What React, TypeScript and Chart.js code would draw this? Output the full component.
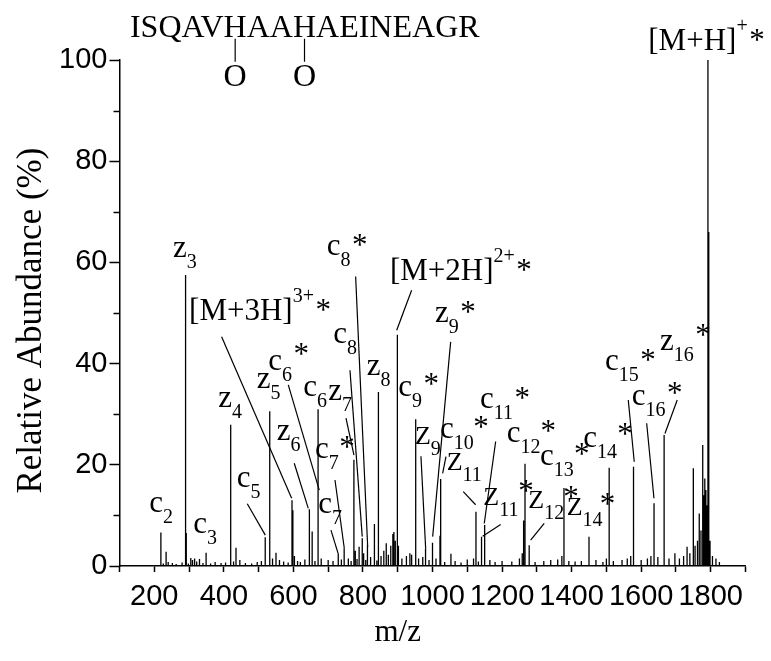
import React, { useEffect, useRef } from "react";
import { Chart, registerables } from "chart.js";

Chart.register(...registerables);

// Fragment and precursor peaks (m/z, relative abundance %)
const peakMz = [
  219, 234, 290, 292, 305, 310, 316, 349, 418.6, 420.5,
  435, 519, 532, 550, 596, 598.5, 603, 646, 654, 671,
  729, 746, 774, 778, 789, 798, 802, 813, 833, 844.5,
  860, 867, 880, 886, 889, 893, 899, 902, 935, 940,
  950.5, 952.5, 980, 1000, 1021.5, 1023.5, 1053, 1125, 1141, 1150,
  1262, 1266, 1278, 1372, 1378, 1450, 1508, 1578, 1637, 1666,
  1697, 1732, 1750, 1755, 1762, 1767, 1772, 1777, 1780, 1783,
  1786, 1789, 1792, 1793.5, 1795, 1798, 1805,
];
const peakAbundance = [
  6.6, 2.8, 57.5, 6.5, 1.6, 1.2, 1.5, 2.6, 27.9, 6.4,
  3.6, 5.7, 30.6, 2.6, 13.0, 11.0, 2.0, 11.2, 6.8, 31.0,
  2.4, 3.5, 21.0, 3.0, 3.8, 5.5, 2.5, 4.1, 8.3, 34.4,
  3.0, 4.5, 4.0, 6.3, 6.7, 5.0, 45.7, 4.0, 2.5, 2.2,
  29.0, 8.8, 3.5, 4.6, 6.0, 17.2, 2.4, 10.7, 5.8, 8.1,
  9.0, 20.2, 4.1, 2.0, 15.4, 5.8, 19.4, 19.6, 12.4, 25.9,
  2.5, 3.8, 19.3, 4.0, 5.0, 10.4, 7.0, 23.9, 14.0, 17.3,
  15.0, 12.0, 100, 66, 25, 5, 2,
];

// Low-level baseline signals
const noiseMz = [
  226, 240, 252, 263, 280, 298, 322, 330, 340, 362,
  375, 392, 405, 428, 446, 462, 480, 496, 508, 540,
  560, 572, 585, 612, 620, 633, 662, 680, 700, 714,
  738, 758, 766, 783, 808, 822, 840, 852, 873, 912,
  925, 960, 972, 990, 1010, 1035, 1065, 1082, 1100, 1118,
  1132, 1165, 1180, 1200, 1228, 1250, 1258, 1295, 1320, 1340,
  1360, 1392, 1410, 1428, 1470, 1490, 1500, 1520, 1545, 1560,
  1570, 1600, 1618, 1628, 1648, 1680, 1710, 1722, 1740, 1815,
  1825,
];
const noiseAbundance = [
  0.5, 0.8, 0.6, 0.4, 0.7, 0.5, 0.9, 1.4, 0.6, 0.5,
  0.8, 0.6, 0.7, 0.9, 1.2, 0.6, 0.5, 0.8, 1.0, 1.5,
  1.2, 0.9, 0.7, 1.0, 0.8, 1.3, 1.0, 1.5, 1.2, 1.0,
  1.3, 1.5, 1.0, 1.4, 1.2, 1.8, 1.1, 2.0, 2.2, 1.5,
  2.0, 1.5, 1.8, 1.2, 1.5, 0.8, 1.0, 0.7, 1.3, 1.5,
  0.9, 1.2, 0.8, 1.0, 0.9, 1.5, 2.5, 0.8, 1.0, 1.2,
  1.3, 1.0, 0.9, 1.0, 1.2, 0.8, 1.5, 1.0, 1.2, 1.5,
  2.0, 1.2, 1.5, 2.0, 1.8, 1.5, 1.5, 2.0, 2.5, 1.5,
  0.8,
];

const xLabelValues = [200, 400, 600, 800, 1000, 1200, 1400, 1600, 1800];
const yLabelValues = [0, 20, 40, 60, 80, 100];
const yMinorTicks = [10, 30, 50, 70, 90];

const sequence = "ISQAVHAAHAEINEAGR";
const oxidizedResidues = [5, 8];

type IonLabel = {
  text: string;
  sub?: string;
  sup?: string;
  star?: boolean;
  starLift?: number;
  mz: number;
  ab: number;
};

// Ion labels: anchor is left edge / baseline of the main glyphs
const ionLabels: IonLabel[] = [
  { text: "z", sub: "3", mz: 253.8, ab: 61.1 },
  { text: "[M+3H]", sup: "3+", star: true, mz: 300, ab: 48.6 },
  { text: "c", sub: "8", star: true, mz: 695.7, ab: 61.5 },
  { text: "[M+2H]", sup: "2+", star: true, mz: 877.6, ab: 56.5 },
  { text: "z", sub: "9", star: true, mz: 1007, ab: 48.3 },
  { text: "c", sub: "9", star: true, starLift: 2, mz: 901.8, ab: 33.5 },
  { text: "z", sub: "8", mz: 810.7, ab: 37.7 },
  { text: "c", sub: "8", mz: 714.7, ab: 44.0 },
  { text: "c", sub: "6", star: true, starLift: 6, mz: 527.8, ab: 38.7 },
  { text: "z", sub: "5", mz: 494.4, ab: 35.1 },
  { text: "c", sub: "6", mz: 628.4, ab: 33.5 },
  { text: "z", sub: "7", mz: 700.3, ab: 32.8 },
  { text: "z", sub: "4", mz: 384, ab: 31.5 },
  { text: "z", sub: "6", mz: 552, ab: 24.9 },
  { text: "c", sub: "7", mz: 662, ab: 21.3 },
  { text: "c", sub: "5", mz: 437, ab: 15.7 },
  { text: "c", sub: "7", mz: 671.5, ab: 10.4 },
  { text: "c", sub: "2", mz: 185.6, ab: 10.7 },
  { text: "c", sub: "3", mz: 312, ab: 6.5 },
  { text: "Z", sub: "9", mz: 949.6, ab: 24.2 },
  { text: "c", sub: "10", mz: 1021.4, ab: 25.2 },
  { text: "Z", sub: "11", mz: 1040.7, ab: 19.0 },
  { text: "c", sub: "11", star: true, mz: 1136.5, ab: 31.2 },
  { text: "c", sub: "12", mz: 1213.2, ab: 24.6 },
  { text: "c", sub: "13", mz: 1309, ab: 20.0 },
  { text: "Z", sub: "11", mz: 1146, ab: 12.1 },
  { text: "Z", sub: "12", mz: 1275.3, ab: 11.4 },
  { text: "Z", sub: "14", mz: 1385.7, ab: 10.1 },
  { text: "c", sub: "14", mz: 1433.5, ab: 23.6 },
  { text: "c", sub: "15", star: true, mz: 1495.9, ab: 38.7 },
  { text: "c", sub: "16", star: true, starLift: 2, mz: 1572.6, ab: 31.8 },
  { text: "z", sub: "16", star: true, starLift: 5, mz: 1654, ab: 42.7 },
  { text: "[M+H]", sup: "+", star: true, mz: 1620.5, ab: 102.0 },
];

// Stand-alone asterisks (centre positions)
const loneStars: [number, number][] = [
  [754, 24.4], [1139.3, 28.3], [1332.8, 27.5], [1268.7, 15.6],
  [1398, 14.4], [1428.9, 22.9], [1503, 13.0], [1553.4, 26.9],
];

// Leader lines from labels to peaks: [mz1, ab1, mz2, ab2]
const leaderLines: [number, number, number, number][] = [
  [393.6, 45.3, 595, 13.4],
  [779, 57.2, 813.6, 3.8],
  [762.7, 38.7, 798, 5.8],
  [751.2, 29.2, 774.2, 21.9],
  [602.5, 20.3, 642.8, 11.4],
  [585.3, 35.8, 674.4, 15.0],
  [719.6, 17.0, 746.3, 3.5],
  [708, 7.1, 729, 2.4],
  [467.4, 12.3, 519.2, 6.1],
  [940, 54.5, 897, 46.6],
  [966.8, 21.7, 980.3, 3.5],
  [1052.2, 44.3, 1000.5, 5.8],
  [1038.7, 21.6, 1029.2, 18.3],
  [1088.4, 14.7, 1124, 12.1],
  [1181.6, 24.6, 1148.8, 8.4],
  [1196, 8.2, 1144.2, 5.9],
  [1321.3, 8.4, 1282.2, 5.1],
  [1562.9, 32.8, 1580.1, 20.6],
  [1615.8, 28.2, 1636.8, 13.4],
  [1703.7, 32.8, 1668.4, 26.2],
];

const SERIF = '"Liberation Serif", "Times New Roman", serif';
const SANS = '"Liberation Sans", Arial, sans-serif';

function buildSpectrum() {
  const sticks: [number, number][] = [];
  peakMz.forEach((m, i) => sticks.push([m, peakAbundance[i]]));
  noiseMz.forEach((m, i) => sticks.push([m, noiseAbundance[i]]));
  sticks.sort((a, b) => a[0] - b[0]);
  const pts: { x: number; y: number }[] = [];
  for (const [m, a] of sticks) {
    pts.push({ x: m, y: 0 }, { x: m, y: a }, { x: m, y: 0 });
  }
  return pts;
}

const annotationPlugin = {
  id: "ionAnnotations",
  afterDatasetsDraw(chart: any) {
    const { ctx, chartArea } = chart;
    const xs = chart.scales.x;
    const ys = chart.scales.y;
    const px = (v: number) => xs.getPixelForValue(v);
    const py = (v: number) => ys.getPixelForValue(v);
    ctx.save();

    // minor ticks on the abundance axis
    ctx.strokeStyle = "#000";
    ctx.lineWidth = 1.5;
    for (const v of yMinorTicks) {
      const y = Math.round(py(v)) + 0.5;
      ctx.beginPath();
      ctx.moveTo(chartArea.left - 6, y);
      ctx.lineTo(chartArea.left, y);
      ctx.stroke();
    }

    // leader lines
    ctx.lineWidth = 1.2;
    for (const [m1, a1, m2, a2] of leaderLines) {
      ctx.beginPath();
      ctx.moveTo(px(m1), py(a1));
      ctx.lineTo(px(m2), py(a2));
      ctx.stroke();
    }

    // ion labels
    ctx.fillStyle = "#000";
    ctx.textAlign = "left";
    ctx.textBaseline = "alphabetic";
    for (const lb of ionLabels) {
      const x0 = px(lb.mz);
      const y0 = py(lb.ab);
      const size = lb.text === "Z" ? 26 : 31;
      ctx.font = `${size}px ${SERIF}`;
      ctx.fillText(lb.text, x0, y0);
      const end = x0 + ctx.measureText(lb.text).width;
      let tail = end;
      ctx.font = `20px ${SERIF}`;
      if (lb.sub) {
        ctx.fillText(lb.sub, end, y0 + 11);
        tail = Math.max(tail, end + ctx.measureText(lb.sub).width);
      }
      if (lb.sup) {
        ctx.fillText(lb.sup, end, y0 - 18);
        tail = Math.max(tail, end + ctx.measureText(lb.sup).width);
      }
      if (lb.star) {
        ctx.font = `31px ${SERIF}`;
        ctx.fillText("*", tail + 1.5, y0 - (lb.starLift ?? 0));
      }
    }

    // asterisks on their own
    ctx.font = `31px ${SERIF}`;
    ctx.textAlign = "center";
    for (const [m, a] of loneStars) {
      ctx.fillText("*", px(m), py(a) + 14);
    }

    // peptide sequence with oxidised residues
    ctx.textAlign = "left";
    ctx.font = `32px ${SERIF}`;
    const sx = px(130.1);
    const sy = py(104.6);
    ctx.fillText(sequence, sx, sy);
    ctx.lineWidth = 1.2;
    for (const idx of oxidizedResidues) {
      const cx = sx + ctx.measureText(sequence.slice(0, idx)).width + ctx.measureText(sequence[idx]).width / 2;
      ctx.beginPath();
      ctx.moveTo(cx, sy + 2);
      ctx.lineTo(cx, sy + 25);
      ctx.stroke();
      ctx.textAlign = "center";
      ctx.fillText("O", cx, sy + 49.5);
      ctx.textAlign = "left";
    }

    // axis titles
    ctx.font = `31px ${SERIF}`;
    ctx.textAlign = "center";
    ctx.fillText("m/z", px(900), chartArea.bottom + 75);
    ctx.save();
    ctx.translate(chartArea.left - 79, py(48.5));
    ctx.rotate(-Math.PI / 2);
    ctx.font = `35px ${SERIF}`;
    ctx.fillText("Relative Abundance (%)", 0, 0);
    ctx.restore();

    ctx.restore();
  },
};

export default function App() {
  const ref = useRef<HTMLCanvasElement>(null);

  useEffect(() => {
    const canvas = ref.current;
    if (!canvas) return;
    const chart = new Chart(canvas, {
      type: "line",
      data: {
        datasets: [
          {
            data: buildSpectrum(),
            borderColor: "#000",
            borderWidth: 1.3,
            pointRadius: 0,
            tension: 0,
            fill: false,
          },
        ],
      },
      options: {
        responsive: false,
        animation: false,
        devicePixelRatio: 1,
        layout: { padding: { left: 0, top: 60, right: 25.5, bottom: 0 } },
        plugins: { legend: { display: false }, tooltip: { enabled: false } },
        scales: {
          x: {
            type: "linear",
            min: 100,
            max: 1900,
            afterFit: (s: any) => {
              s.height = 95;
            },
            border: { display: true, color: "#000", width: 1.5 },
            grid: {
              display: true,
              drawOnChartArea: false,
              drawTicks: true,
              tickLength: 6,
              tickColor: "#000",
              tickWidth: 1.5,
            },
            ticks: {
              stepSize: 100,
              autoSkip: false,
              maxRotation: 0,
              padding: 8,
              color: "#000",
              font: { family: SANS, size: 29 },
              callback: (v: any) => (xLabelValues.includes(Number(v)) ? String(v) : ""),
            },
          },
          y: {
            min: 0,
            max: 100,
            afterFit: (s: any) => {
              s.width = 119.5;
            },
            border: { display: true, color: "#000", width: 1.5 },
            grid: {
              display: true,
              drawOnChartArea: false,
              drawTicks: true,
              tickLength: 10,
              tickColor: "#000",
              tickWidth: 1.5,
            },
            ticks: {
              stepSize: 20,
              padding: 2,
              color: "#000",
              font: { family: SANS, size: 29 },
              callback: (v: any) => (yLabelValues.includes(Number(v)) ? String(v) : ""),
            },
          },
        },
      },
      plugins: [annotationPlugin],
    });
    return () => chart.destroy();
  }, []);

  return (
    <div style={{ position: "absolute", left: 0, top: 0, width: 771, height: 661, background: "#fff" }}>
      <canvas ref={ref} width={771} height={661} style={{ display: "block", width: 771, height: 661 }} />
    </div>
  );
}
